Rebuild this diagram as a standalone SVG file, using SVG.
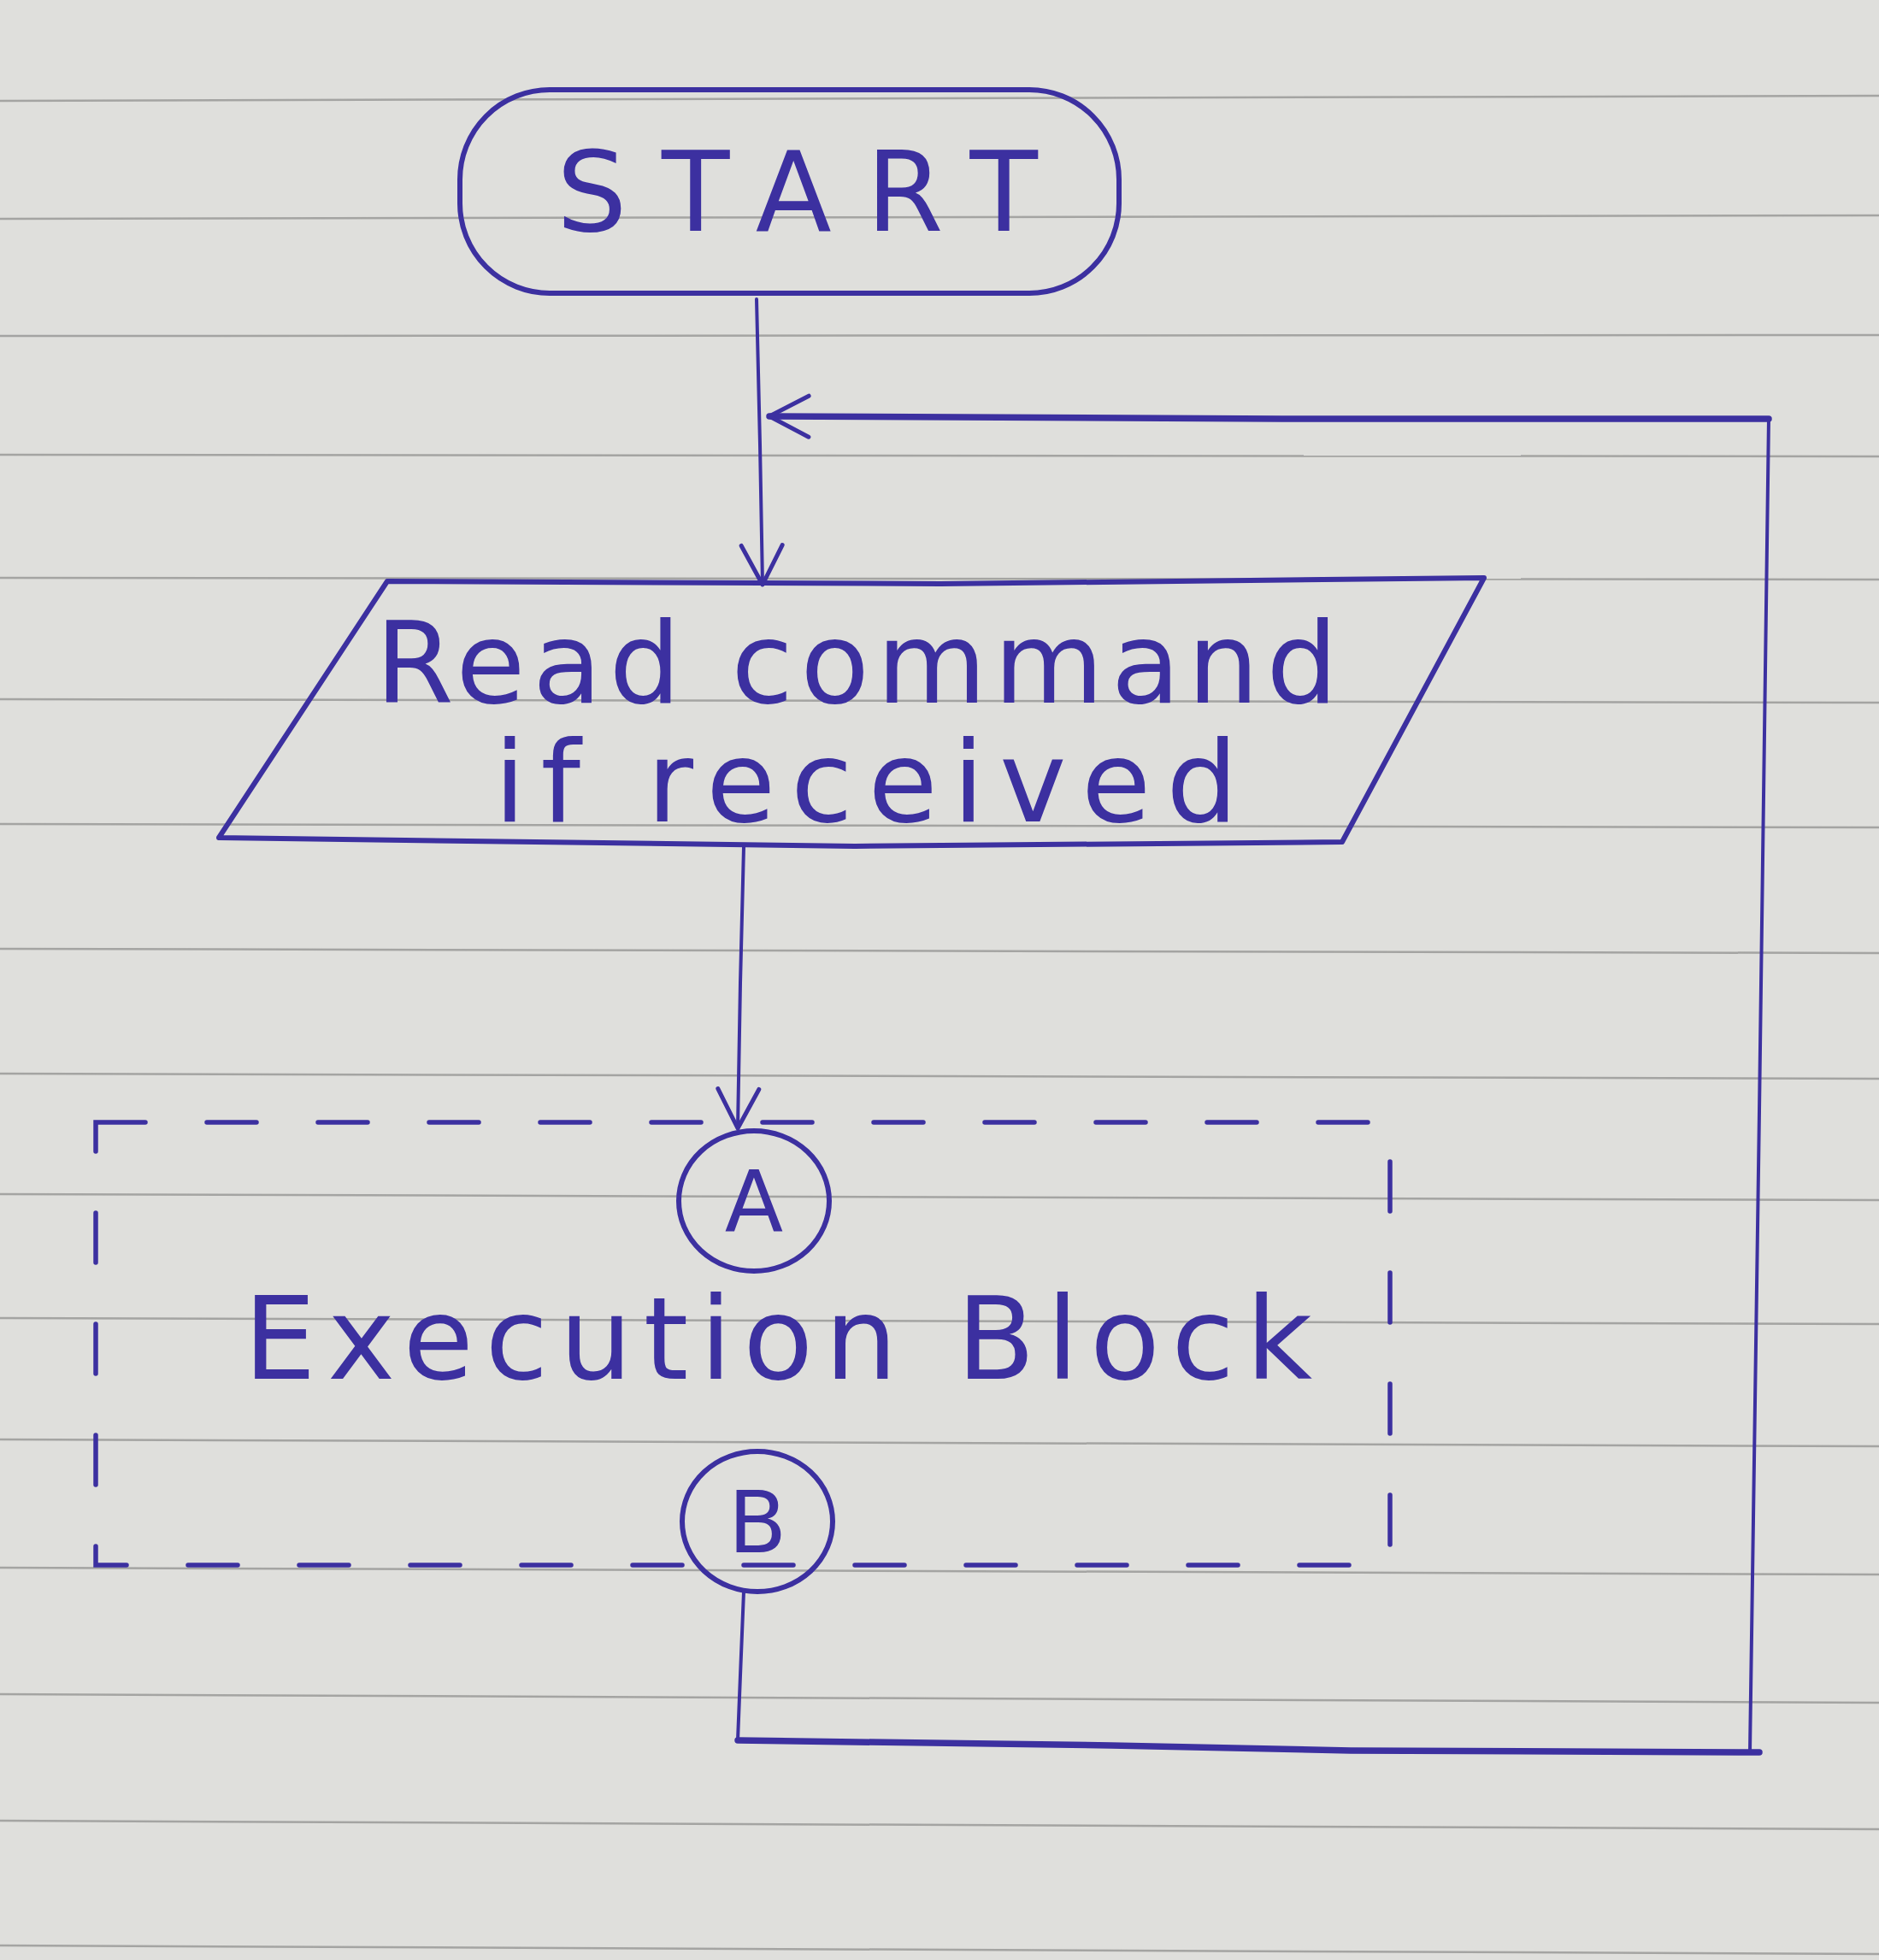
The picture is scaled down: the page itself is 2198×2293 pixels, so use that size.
<svg xmlns="http://www.w3.org/2000/svg" width="2198" height="2293" viewBox="0 0 2198 2293">
  <defs>
    <style>
      .ink { fill: none; stroke: #3c30a0; stroke-width: 6; stroke-linecap: round; stroke-linejoin: round; }
      .thick { stroke-width: 7.5; }
      .thin { stroke-width: 4; }
      .dash { fill: none; stroke: #3c30a0; stroke-width: 5.5; stroke-dasharray: 58 72; stroke-linecap: round; }
      .txt { fill: #3c30a0; font-family: "DejaVu Sans", "Liberation Sans", sans-serif; }
      .rule { stroke: #a4a4a2; stroke-width: 2.5; }
    </style>
    <marker id="vhead" viewBox="-52 -30 60 60" refX="0" refY="0" markerWidth="60" markerHeight="60" markerUnits="userSpaceOnUse" orient="auto">
      <path d="M -46 -24 L 0 0 L -46 24" fill="none" stroke="#3c30a0" stroke-width="5" stroke-linecap="round" stroke-linejoin="round"/>
    </marker>
  </defs>

  <!-- paper -->
  <g id="paper">
    <rect x="0" y="0" width="2198" height="2293" fill="#dfdfdc"/>
    <line class="rule" x1="0" y1="118" x2="2198" y2="112"/>
    <line class="rule" x1="0" y1="256" x2="2198" y2="252"/>
    <line class="rule" x1="0" y1="393" x2="2198" y2="392"/>
    <line class="rule" x1="0" y1="532" x2="2198" y2="534"/>
    <line class="rule" x1="0" y1="676" x2="2198" y2="678"/>
    <line class="rule" x1="0" y1="818" x2="2198" y2="822"/>
    <line class="rule" x1="0" y1="964" x2="2198" y2="968"/>
    <line class="rule" x1="0" y1="1110" x2="2198" y2="1115"/>
    <line class="rule" x1="0" y1="1256" x2="2198" y2="1262"/>
    <line class="rule" x1="0" y1="1397" x2="2198" y2="1404"/>
    <line class="rule" x1="0" y1="1542" x2="2198" y2="1549"/>
    <line class="rule" x1="0" y1="1684" x2="2198" y2="1692"/>
    <line class="rule" x1="0" y1="1834" x2="2198" y2="1842"/>
    <line class="rule" x1="0" y1="1982" x2="2198" y2="1992"/>
    <line class="rule" x1="0" y1="2130" x2="2198" y2="2140"/>
    <line class="rule" x1="0" y1="2276" x2="2198" y2="2286"/>
  </g>

  <!-- connectors -->
  <g id="connectors">
    <path class="ink thin" d="M 885 350 L 889 520 L 892 684" marker-end="url(#vhead)"/>
    <path class="ink thick" d="M 2069 490 L 1500 490 L 900 487" marker-end="url(#vhead)"/>
    <path class="ink thin" d="M 2069 490 L 2058 1300 L 2047 2050"/>
    <path class="ink thick" d="M 863 2036 L 1300 2042 L 1580 2048 L 2058 2050"/>
    <path class="ink thin" d="M 870 1862 L 866 1960 L 863 2036"/>
    <path class="ink thin" d="M 870 991 L 866 1150 L 863 1320" marker-end="url(#vhead)"/>
  </g>

  <!-- START terminator -->
  <g id="node-start">
    <rect class="ink" x="538" y="105" width="771" height="238" rx="105" ry="105"/>
    <text class="txt" x="651" y="270" font-size="130" textLength="563" lengthAdjust="spacing">START</text>
  </g>

  <!-- input parallelogram -->
  <g id="node-read">
    <path class="ink" d="M 453 680 L 1100 683 L 1736 676 L 1570 985 L 1000 990 L 256 980 Z"/>
    <text class="txt" x="439" y="822" font-size="132" textLength="1126" lengthAdjust="spacing">Read command</text>
    <text class="txt" x="578" y="961" font-size="132" textLength="870" lengthAdjust="spacing">if received</text>
  </g>

  <!-- execution block -->
  <g id="node-exec">
    <rect class="dash" x="112" y="1313" width="1514" height="518"/>
    <text class="txt" x="285" y="1613" font-size="134" textLength="1250" lengthAdjust="spacing">Execution Block</text>
  </g>

  <!-- connector A -->
  <g id="node-a">
    <ellipse class="ink" cx="882" cy="1405" rx="88" ry="82"/>
    <text class="txt" x="882" y="1441" font-size="100" text-anchor="middle">A</text>
  </g>

  <!-- connector B -->
  <g id="node-b">
    <ellipse class="ink" cx="886" cy="1780" rx="88" ry="82"/>
    <text class="txt" x="886" y="1816" font-size="100" text-anchor="middle">B</text>
  </g>
</svg>
